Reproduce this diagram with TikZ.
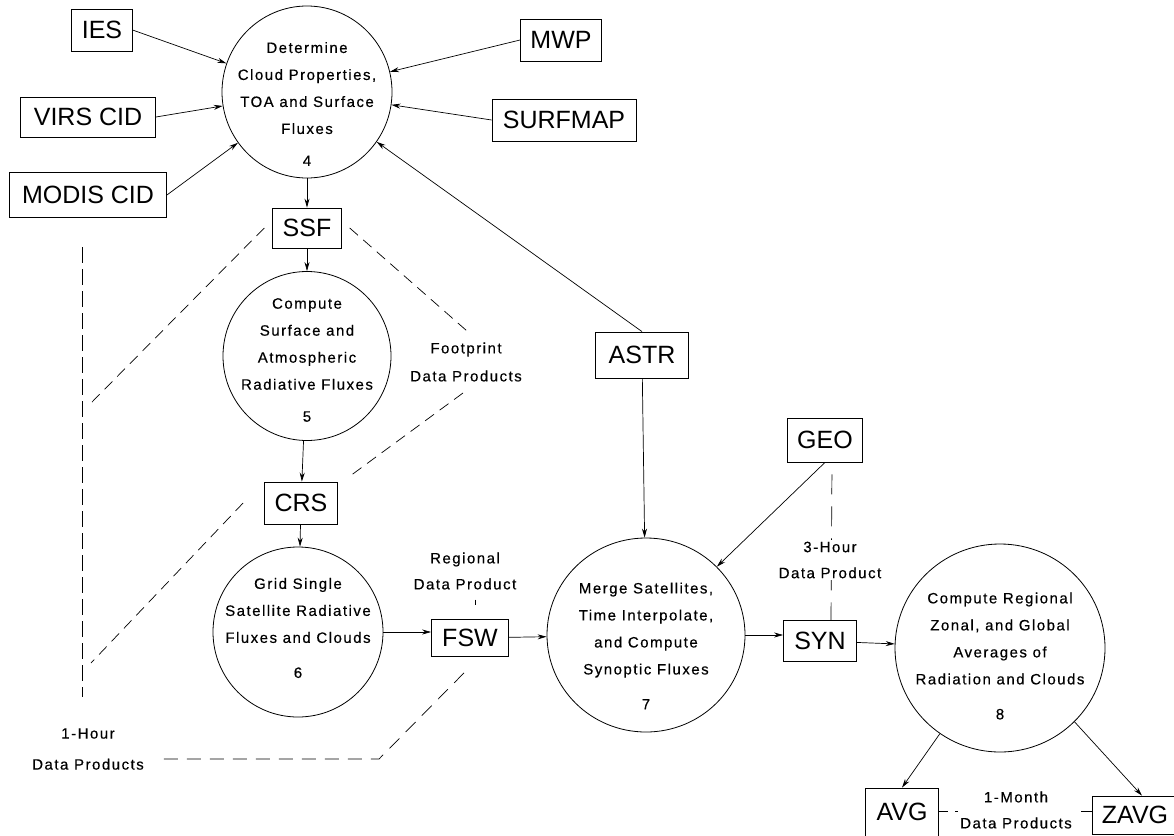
\documentclass[tikz,border=0pt]{standalone}
\usepackage{fontspec}
\setmainfont{Liberation Sans}
\newfontfamily\boxfont{Liberation Sans}
\newfontfamily\spfont[LetterSpace=10, FakeBold=0.4]{Liberation Sans}
\usetikzlibrary{shapes,arrows.meta}
\tikzstyle{store}=[draw,
                   line width=0.8pt,
                   inner xsep=10pt,
                   inner ysep=0pt,
                   minimum height=42pt,
                   font=\boxfont\fontsize{25}{30}\selectfont]
\tikzstyle{proc}=[draw, ellipse, line width=0.8pt, inner sep=0pt]
\tikzstyle{ptext}=[align=center, inner sep=0pt, font=\spfont\fontsize{15}{27}\selectfont]
\tikzstyle{note}=[align=center, inner sep=2pt, fill=white, font=\spfont\fontsize{15}{26}\selectfont]
\tikzstyle{flow}=[-{Stealth[length=9pt,width=5pt]}, line width=0.7pt]
\tikzstyle{group}=[dash pattern=on 11pt off 7pt, line width=0.7pt]

\begin{document}
\begin{tikzpicture}[x=1pt,y=-1pt]
    \useasboundingbox (0,0) rectangle (1174,835);
    % inputs
    \node[store, minimum width=58pt] (ies) at (102,30) {IES};
    \node[store, minimum width=135pt, minimum height=40pt] (virs) at (88,117) {VIRS CID};
    \node[store, minimum width=157pt, minimum height=45pt] (modis) at (88,195) {MODIS CID};
    \node[store, minimum width=79pt] (mwp) at (561,40) {MWP};
    \node[store, minimum width=144pt] (surf) at (564,120) {SURFMAP};
    \node[store, minimum width=93pt, minimum height=46pt] (astr) at (642,355) {ASTR};
    \node[store, minimum width=74pt, minimum height=44pt] (geo) at (825,440) {GEO};

    % processes and products
    \node[proc, minimum width=170pt, minimum height=172pt] (p4) at (307,92) {};
    \node[ptext] (p4txt) at (307,104) {Determine\\Cloud Properties,\\TOA and Surface\\Fluxes\\[5pt]4};
    \node[store, minimum width=66pt, minimum height=40pt, below of=p4, node distance=136pt] (ssf) {SSF};
    \node[proc, minimum width=168pt, minimum height=169pt, below of=ssf, node distance=128pt] (p5) {};
    \node[ptext] (p5txt) at (307,360) {Compute\\Surface and\\Atmospheric\\Radiative Fluxes\\[5pt]5};
    \node[store, minimum width=73pt] (crs) at (301,503) {CRS};
    \node[proc, minimum width=170pt, minimum height=170pt] (p6) at (298,632) {};
    \node[ptext] (p6txt) at (298,628) {Grid Single\\Satellite Radiative\\Fluxes and Clouds\\[8pt]6};
    \node[store, minimum width=77pt, minimum height=37pt] (fsw) at (470,638) {FSW};
    \node[proc, minimum width=198pt, minimum height=194pt] (p7) at (646,635) {};
    \node[ptext] (p7txt) at (646,646) {Merge Satellites,\\Time Interpolate,\\and Compute\\Synoptic Fluxes\\[8pt]7};
    \node[store, minimum width=73pt, minimum height=41pt] (syn) at (820,641) {SYN};
    \node[proc, minimum width=210pt, minimum height=208pt] (p8) at (1000,648) {};
    \node[ptext] (p8txt) at (1000,656) {Compute Regional\\Zonal, and Global\\Averages of\\Radiation and Clouds\\[8pt]8};
    \node[store, minimum width=73pt, minimum height=48pt] (avg) at (902,812) {AVG};
    \node[store, minimum width=74pt, minimum height=38pt] (zavg) at (1135,815) {ZAVG};

    % data product groupings
    \coordinate (vtop) at (82,247);
    \coordinate (vbot) at (82,697);
    \coordinate (fpa) at (92,402);
    \coordinate (fpb) at (467,331);
    \coordinate (fpc) at (463,393);
    \coordinate (crsa) at (91,663);
    \coordinate (hrbend) at (379,759);
    \coordinate (hrend) at (163,759);
    \draw[group, dash pattern=on 16pt off 6pt] (vtop) -- (vbot);
    \draw[group] ([xshift=-8pt]ssf.west) -- (fpa);
    \draw[group] ([xshift=8pt]ssf.east) -- (fpb);
    \draw[group] (fpc) -- ([shift={(10pt,4pt)}]crs.north east);
    \draw[group] ([xshift=-21pt]crs.west) -- (crsa);
    \draw[group, dash pattern=on 14pt off 9pt] ([shift={(-6pt,-16pt)}]fsw.south) -- (hrbend) -- (hrend);
    \draw[group, dash pattern=on 20pt off 12pt, dash phase=20pt] ([xshift=7pt]geo.south) -- ([xshift=11pt]syn.north);
    \draw[group] ([yshift=4pt]zavg.west) -- ([yshift=4pt]zavg.west -| avg.east);

    \node[note, font=\spfont\fontsize{15}{28}\selectfont] (fpl) at (466,362) {Footprint\\Data Products};
    \node[note] (hr1) at (88,749) {1-Hour\\[5pt]Data Products};
    \node[note] (rgl) at (465,571) {Regional\\Data Product};
    \node[note] (hr3) at (830,560) {3-Hour\\Data Product};
    \node[note] (mon) at (1016,810) {1-Month\\Data Products};
    \draw[group, dash pattern=on 5pt off 40pt, dash phase=37pt] ([xshift=10pt]rgl.south) -- ([xshift=5pt]fsw.north);

    % flows
    \draw[flow] (ies.east) -- (p4);
    \draw[flow] (virs.east) -- (p4);
    \draw[flow] (modis.east) -- (p4);
    \draw[flow] (mwp.west) -- (p4);
    \draw[flow] (surf.west) -- (p4);
    \draw[flow] (astr.north) -- (p4);
    \draw[flow] (p4) -- (ssf);
    \draw[flow] (ssf) -- (p5);
    \draw[flow] (p5) -- (crs);
    \draw[flow] (crs) -- (p6);
    \draw[flow] (p6) -- (fsw.west |- p6);
    \draw[flow] (fsw) -- (p7);
    \draw[flow] (astr) -- (p7);
    \draw[flow] (geo.south) -- (p7);
    \draw[flow] (p7) -- (syn.west |- p7);
    \draw[flow] (syn) -- (p8);
    \draw[flow] (p8) -- (avg.north);
    \draw[flow] (p8.south east) -- ([xshift=7pt]zavg.north);
\end{tikzpicture}
\end{document}
